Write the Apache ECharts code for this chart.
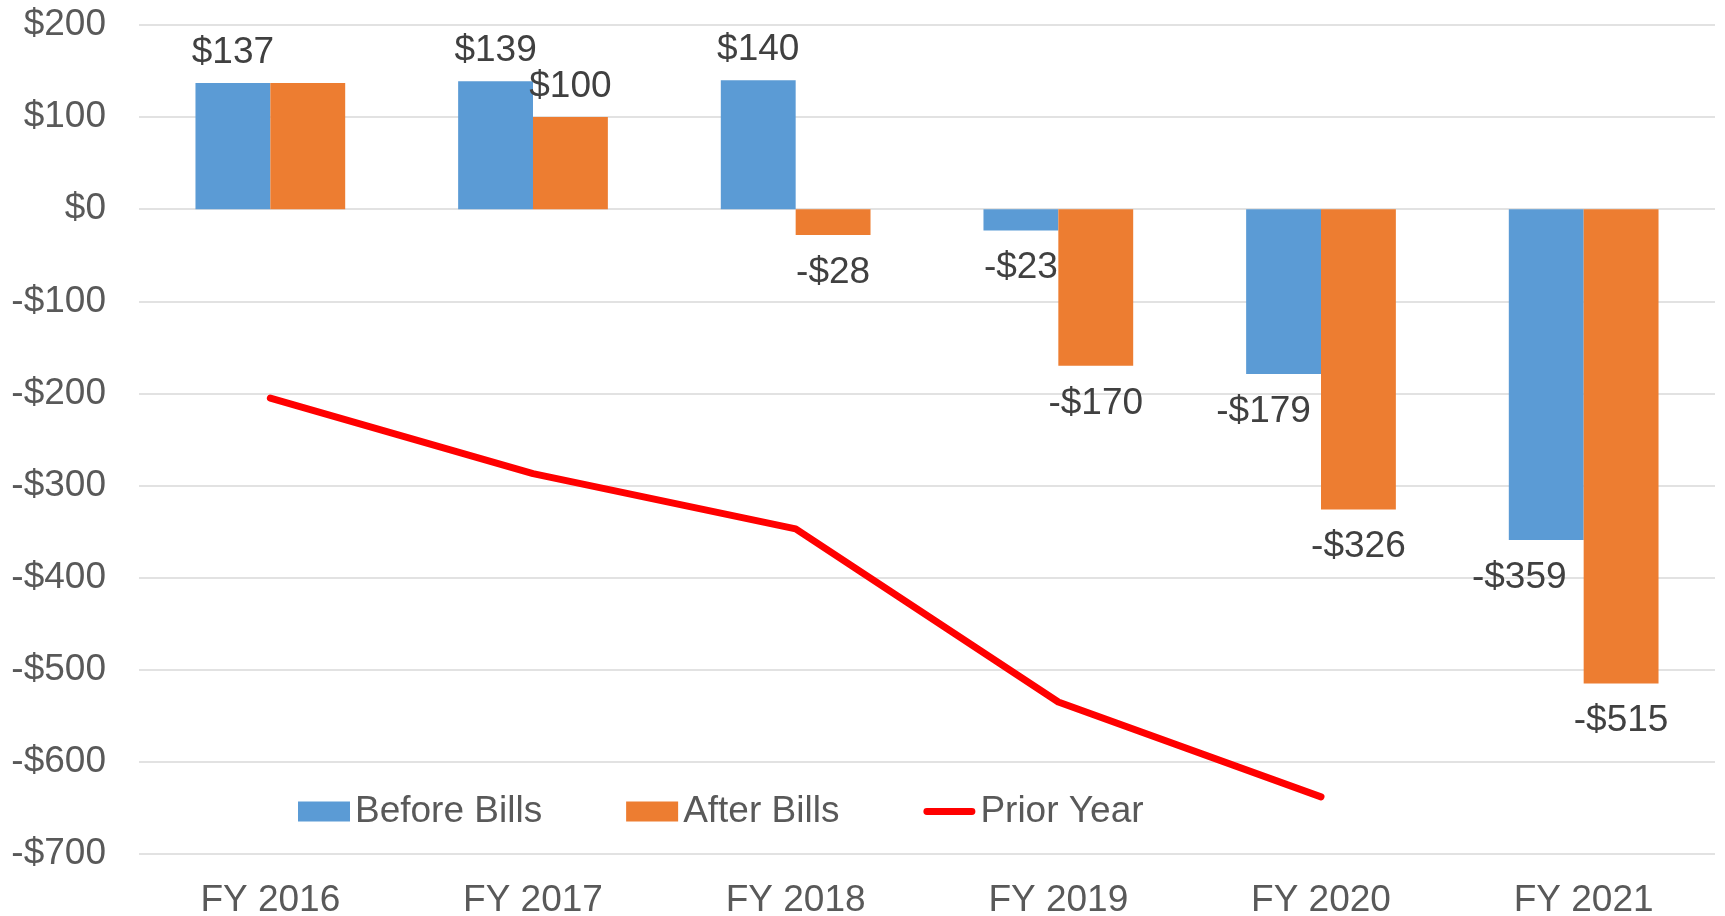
<!DOCTYPE html>
<html>
<head>
<meta charset="utf-8">
<script src="https://cdn.jsdelivr.net/npm/echarts@6/dist/echarts.min.js"></script>
<style>
  html, body { margin: 0; padding: 0; background: #fff; }
  #main { width: 1725px; height: 916px; }
</style>
</head>
<body>
<div id="main"></div>
<script>
// categories + values
var years = ['FY 2016', 'FY 2017', 'FY 2018', 'FY 2019', 'FY 2020', 'FY 2021'];
var beforeBills = [137, 139, 140, -23, -179, -359];
var afterBills = [137, 100, -28, -170, -326, -515];
var priorYear = [-205, -287, -347, -535, -638, null];
var yTicks = { min: -700, max: 200, step: 100 };

var FONT = 'Liberation Sans, Arial, sans-serif';

function money(v) {
    return v < 0 ? '-$' + Math.abs(v) : '$' + v;
}

// negative bars get label under the bar, positive above
// nudge = horizontal shift of some labels (excel moved them to dodge the orange bar)
function barData(list, hideIdx, nudge) {
    var out = [];
    for (var i = 0; i < list.length; i++) {
        var neg = list[i] < 0;
        var item = {
            value: list[i],
            label: { position: neg ? 'bottom' : 'top', distance: neg ? 19 : 12 }
        };
        if (nudge && nudge[i]) item.label.offset = [nudge[i], 0];
        if (i === hideIdx) item.label.show = false;
        out.push(item);
    }
    return out;
}

var myChart = echarts.init(document.getElementById('main'));

var barLabel = {
    show: true,
    fontFamily: FONT,
    fontSize: 37,
    color: '#404040',
    formatter: function (p) { return money(p.value); }
};

var option = {
    animation: false,
    backgroundColor: '#fff',
    grid: { left: 139, right: 10, top: 25, bottom: 62, outerBoundsMode: 'none', containLabel: false },
    legend: {
        left: 293,
        top: 788,
        itemWidth: 52,
        itemHeight: 20,
        itemGap: 84,
        textStyle: { fontFamily: FONT, fontSize: 37, color: '#595959', lineHeight: 37 },
        data: [
            { name: 'Before Bills', icon: 'rect' },
            { name: 'After Bills', icon: 'rect' },
            { name: 'Prior Year', icon: 'path://M4,0 H56 A4,4 0 0 1 56,8 H4 A4,4 0 0 1 4,0 Z', itemStyle: { color: '#FF0000' } }
        ]
    },
    xAxis: {
        type: 'category',
        data: years,
        axisLine: { show: false },
        axisTick: { show: false },
        axisLabel: { fontFamily: FONT, fontSize: 37, color: '#595959', margin: 28 }
    },
    yAxis: {
        type: 'value',
        min: yTicks.min,
        max: yTicks.max,
        interval: yTicks.step,
        axisLine: { show: false },
        axisTick: { show: false },
        splitLine: { lineStyle: { color: '#d9d9d9', width: 1.5 } },
        axisLabel: {
            fontFamily: FONT, fontSize: 37, color: '#595959', margin: 33,
            formatter: money
        }
    },
    series: [
        {
            name: 'Before Bills',
            type: 'bar',
            barGap: '0%',
            barCategoryGap: '43%',
            itemStyle: { color: '#5B9BD5' },
            label: barLabel,
            data: barData(beforeBills, -1, [0, 0, 0, 0, -20, -27])
        },
        {
            name: 'After Bills',
            type: 'bar',
            barGap: '0%',
            barCategoryGap: '43%',
            itemStyle: { color: '#ED7D31' },
            label: barLabel,
            data: barData(afterBills, 0)   // FY2016 label hidden in the original
        },
        {
            name: 'Prior Year',
            type: 'line',
            symbol: 'none',
            itemStyle: { color: '#FF0000' },
            lineStyle: { color: '#FF0000', width: 7, cap: 'round', join: 'round' },
            data: priorYear
        }
    ]
};

myChart.setOption(option);
</script>
</body>
</html>
